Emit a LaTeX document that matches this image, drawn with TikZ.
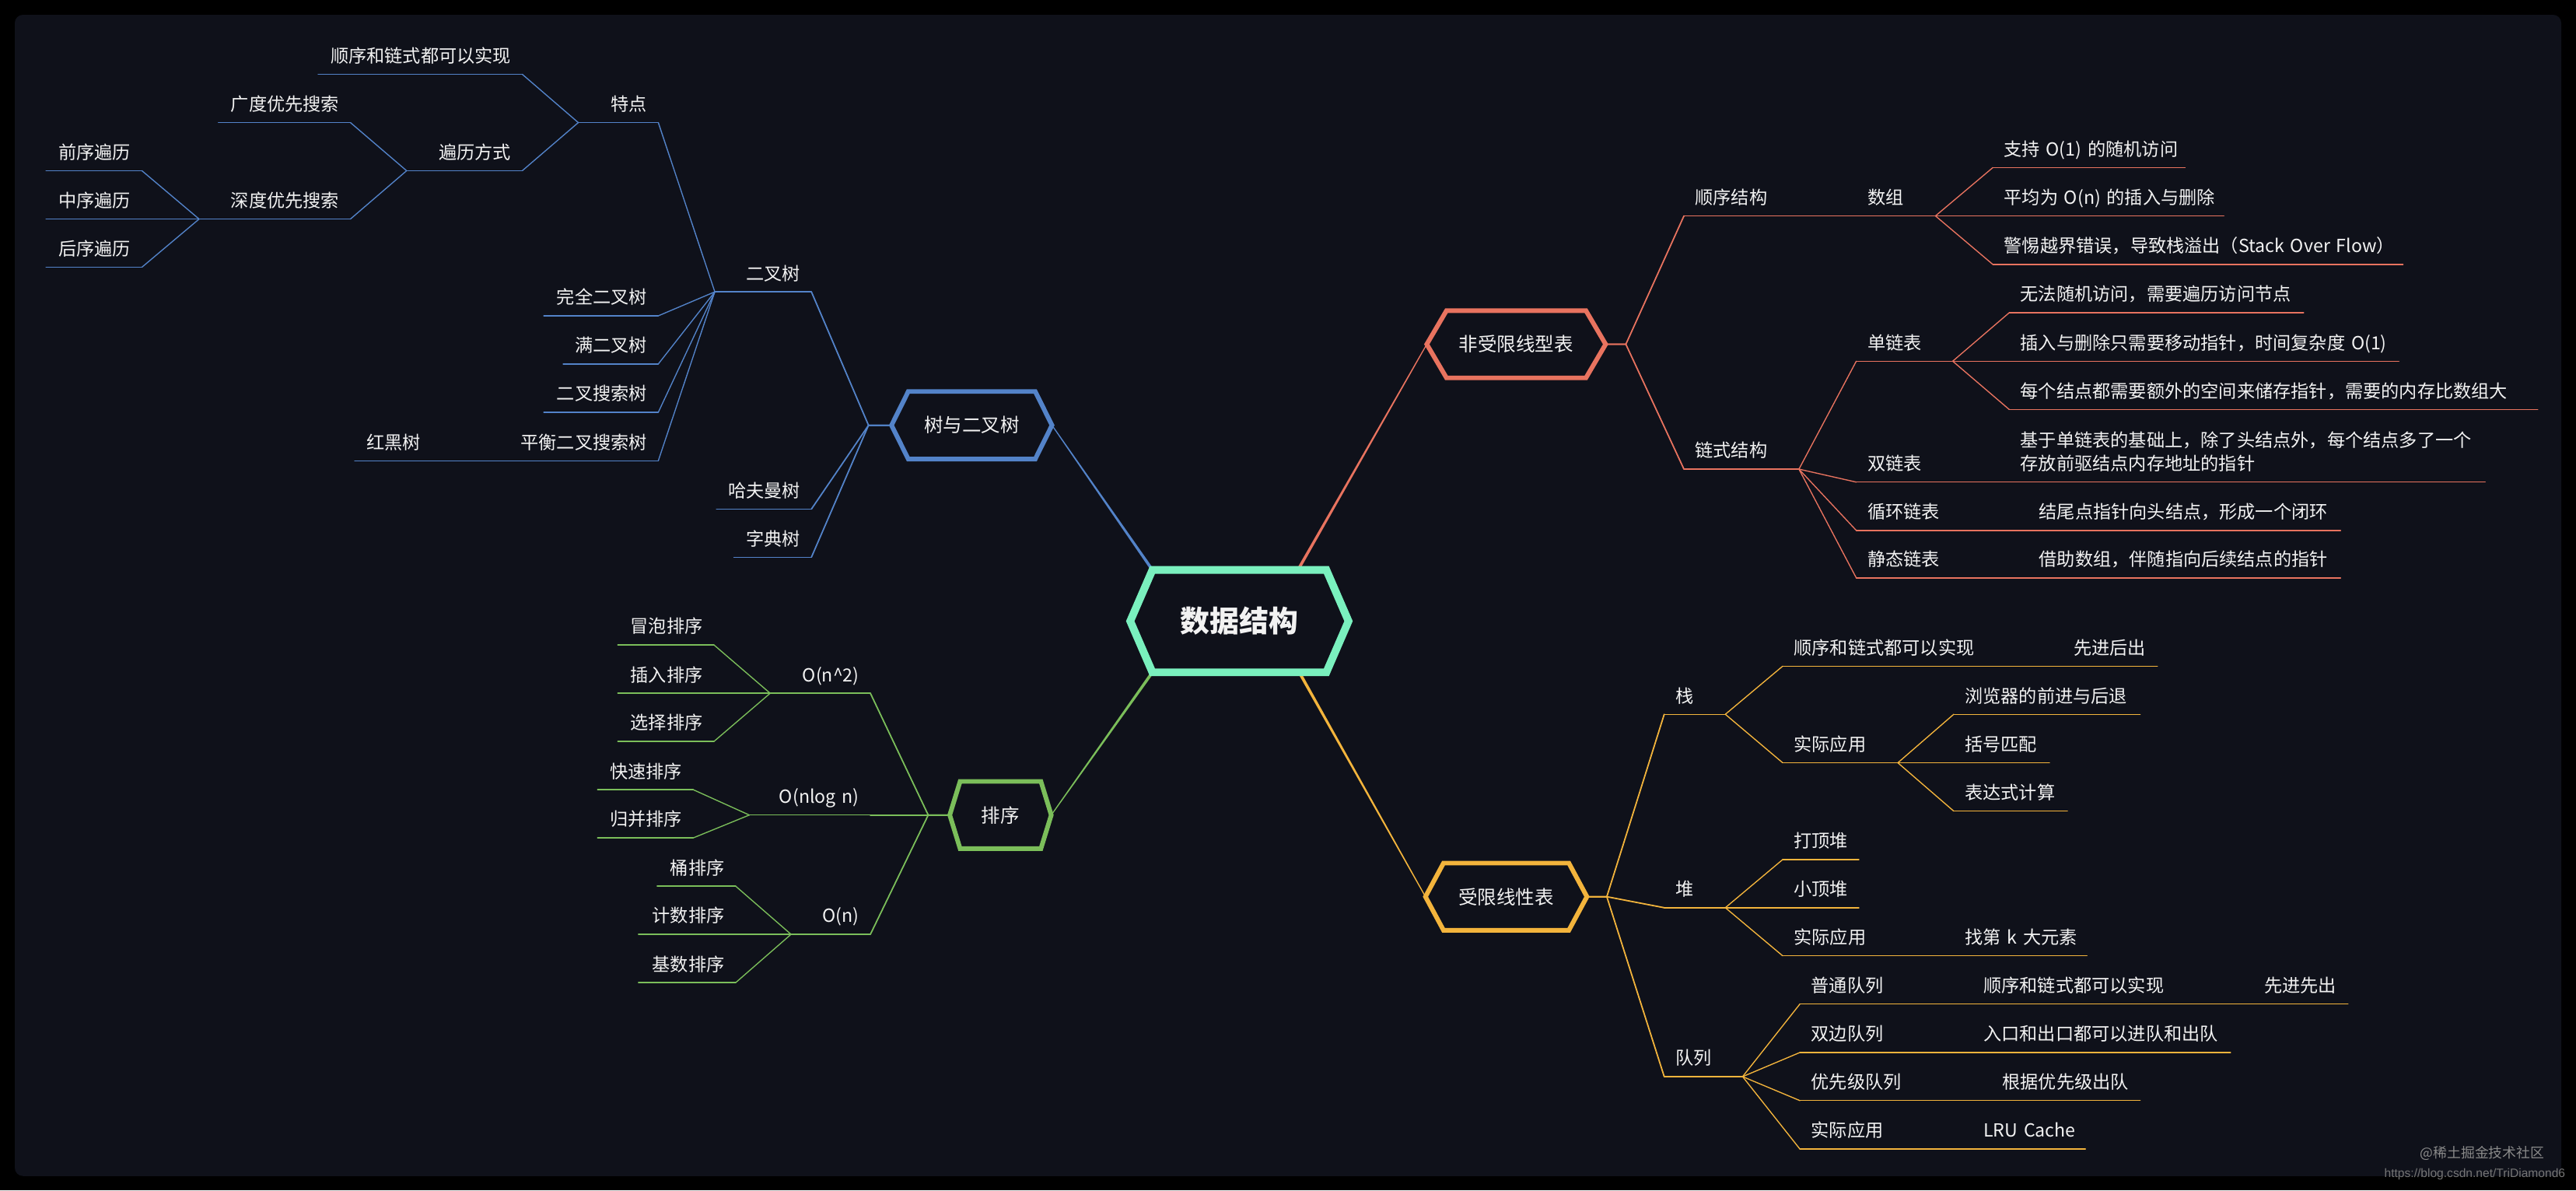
\documentclass[tikz,border=0pt]{standalone}
\usepackage{fontspec}
\setmainfont{Noto Sans CJK SC}
\newfontfamily\urlfont{Liberation Sans}
\usetikzlibrary{calc}
\definecolor{bgc}{HTML}{0F111A}
\definecolor{cblue}{HTML}{5383C9}
\definecolor{ccor}{HTML}{E8735F}
\definecolor{camb}{HTML}{F3B43C}
\definecolor{cgrn}{HTML}{7BBE5A}
\definecolor{cmint}{HTML}{7AF0BE}
\definecolor{txt}{HTML}{F2F2F2}
\definecolor{wmc}{HTML}{8A8A8A}
\tikzset{
  ln/.style={line width=0.013cm, line cap=round, line join=round},
  stub/.style={line width=0.017cm},
  itmbox/.style={anchor=south west, inner xsep=0.13cm, inner ysep=0.11cm,
    text height=5.5pt, text depth=0.75pt,
    font=\fontsize{6.25pt}{8.2pt}\selectfont, text=txt},
  hexbox/.style={inner sep=0pt, font=\fontsize{6.6pt}{8pt}\selectfont, text=txt},
}
% name, colour, align, x0, x1, y, text
\newcommand\itm[7]{%
  \node[itmbox, align=#3, text width={(#5-#4-13)*0.02cm}] (#1) at (#4,#6) {\mbox{#7}};
  \draw[ln,#2] (#1.south west) -- (#1.south east);}
\newcommand\conR[3]{\draw[ln,#1] (#2.south east) -- (#3.south west);}
\newcommand\conL[3]{\draw[ln,#1] (#2.south west) -- (#3.south east);}
\newcommand\hexdraw[4]{\draw[#3, line width=#4, line join=miter]
  (#1.west) -- ([xshift=#2]#1.north west) -- ([xshift=-#2]#1.north east) -- (#1.east)
  -- ([xshift=-#2]#1.south east) -- ([xshift=#2]#1.south west) -- cycle;}
\newcommand\taper[5]{\fill[#1] ($(#2)!#4!90:(#3)$) -- ($(#3)!#5!-90:(#2)$)
  -- ($(#3)!#5!90:(#2)$) -- ($(#2)!#4!-90:(#3)$) -- cycle;}
\begin{document}
\begin{tikzpicture}[x=0.02cm, y=-0.02cm]
\fill[black] (0,0) rectangle (1568,724.35);
\fill[bgc, rounded corners=0.1cm] (9,9) rectangle (1559,715.7);

% ---------- hexagon nodes (outlines drawn later) ----------
\node[hexbox, minimum width=2.644cm, minimum height=1.232cm,
      font=\fontsize{10.2pt}{12pt}\selectfont\bfseries] (ds) at (754.4,378) {数据结构};
\node[hexbox, minimum width=2.164cm, minimum height=0.804cm] (h1) at (922.9,209.5) {非受限线型表};
\node[hexbox, minimum width=1.952cm, minimum height=0.804cm] (h2) at (916.8,545.7) {受限线性表};
\node[hexbox, minimum width=1.94cm, minimum height=0.808cm] (h3) at (591.5,258.8) {树与二叉树};
\node[hexbox, minimum width=1.222cm, minimum height=0.804cm] (h4) at (609,496) {排序};

\coordinate (dsTL) at ([xshift=0.27cm]ds.north west);
\coordinate (dsTR) at ([xshift=-0.616cm]ds.north east);
\coordinate (dsBL) at ([xshift=0.27cm]ds.south west);
\coordinate (dsBR) at ([xshift=-0.6cm]ds.south east);

\taper{cblue}{h3.east}{dsTL}{0.006cm}{0.018cm}
\taper{ccor}{h1.west}{dsTR}{0.006cm}{0.018cm}
\taper{cgrn}{h4.east}{dsBL}{0.006cm}{0.018cm}
\taper{camb}{h2.west}{dsBR}{0.006cm}{0.018cm}

% ---------- coral: 非受限线型表 ----------
\itm{sx}{ccor}{left}{1025}{1094.3}{131.4}{顺序结构}
\itm{szu}{ccor}{left}{1129.9}{1177.4}{131.4}{数组}
\itm{a1}{ccor}{left}{1213}{1329.4}{102}{支持 O(1) 的随机访问}
\itm{a2}{ccor}{left}{1213}{1353}{131.4}{平均为 O(n) 的插入与删除}
\itm{a3}{ccor}{left}{1213}{1462}{160.9}{警惕越界错误，导致栈溢出（Stack Over Flow）}
\itm{lx}{ccor}{left}{1025}{1094.3}{285.5}{链式结构}
\itm{dlb}{ccor}{left}{1129.9}{1187.9}{219.8}{单链表}
\itm{d1}{ccor}{left}{1223}{1401.5}{190.3}{无法随机访问，需要遍历访问节点}
\itm{d2}{ccor}{left}{1223}{1459.5}{219.8}{插入与删除只需要移动指针，时间复杂度 O(1)}
\itm{d3}{ccor}{left}{1223}{1544}{249.2}{每个结点都需要额外的空间来储存指针，需要的内存比数组大}
\itm{slb}{ccor}{left}{1129.9}{1187.9}{293.4}{双链表}
\node[itmbox, align=left, text width={(1512-1223-13)*0.02cm}, text depth=8.95pt] (s1) at (1223,293.4)
  {基于单链表的基础上，除了头结点外，每个结点多了一个\\存放前驱结点内存地址的指针};
\draw[ln,ccor] (s1.south west) -- (s1.south east);
\itm{xhb}{ccor}{left}{1129.9}{1199}{322.8}{循环链表}
\itm{xh1}{ccor}{left}{1234.3}{1424}{322.8}{结尾点指针向头结点，形成一个闭环}
\itm{jtb}{ccor}{left}{1129.9}{1199}{351.7}{静态链表}
\itm{jt1}{ccor}{left}{1234.3}{1424}{351.7}{借助数组，伴随指向后续结点的指针}

\draw[ln,stub,ccor] (h1.east) -- ++(12.3,0) -- (sx.south west);
\draw[ln,stub,ccor] (h1.east) -- ++(12.3,0) -- (lx.south west);
\conR{ccor}{sx}{szu}
\conR{ccor}{szu}{a1}\conR{ccor}{szu}{a2}\conR{ccor}{szu}{a3}
\conR{ccor}{lx}{dlb}\conR{ccor}{lx}{slb}\conR{ccor}{lx}{xhb}\conR{ccor}{lx}{jtb}
\conR{ccor}{dlb}{d1}\conR{ccor}{dlb}{d2}\conR{ccor}{dlb}{d3}
\conR{ccor}{slb}{s1}\conR{ccor}{xhb}{xh1}\conR{ccor}{jtb}{jt1}

% ---------- amber: 受限线性表 ----------
\itm{zhan}{camb}{left}{1013}{1049.5}{434.7}{栈}
\itm{z1}{camb}{left}{1085.1}{1212}{405.4}{顺序和链式都可以实现}
\itm{z1a}{camb}{left}{1255.3}{1312.5}{405.4}{先进后出}
\itm{z2}{camb}{left}{1085.1}{1154.5}{464.2}{实际应用}
\itm{z2a}{camb}{left}{1189.2}{1302}{434.7}{浏览器的前进与后退}
\itm{z2b}{camb}{left}{1189.2}{1246.8}{464.2}{括号匹配}
\itm{z2c}{camb}{left}{1189.2}{1257.7}{493.6}{表达式计算}
\itm{dui}{camb}{left}{1013}{1049.5}{552.4}{堆}
\itm{u1}{camb}{left}{1085.1}{1130.8}{523.1}{打顶堆}
\itm{u2}{camb}{left}{1085.1}{1130.8}{552.4}{小顶堆}
\itm{u3}{camb}{left}{1085.1}{1154.5}{581.7}{实际应用}
\itm{u3a}{camb}{left}{1189.2}{1269.6}{581.7}{找第 k 大元素}
\itm{ql}{camb}{left}{1013}{1060}{655.2}{队列}
\itm{q1}{camb}{left}{1095.6}{1165}{611}{普通队列}
\itm{q1a}{camb}{left}{1200.5}{1330}{611}{顺序和链式都可以实现}
\itm{q1b}{camb}{left}{1371.3}{1428.5}{611}{先进先出}
\itm{q2}{camb}{left}{1095.6}{1165}{640.5}{双边队列}
\itm{q2a}{camb}{left}{1200.5}{1357}{640.5}{入口和出口都可以进队和出队}
\itm{q3}{camb}{left}{1095.6}{1176}{669.8}{优先级队列}
\itm{q3a}{camb}{left}{1212}{1302}{669.8}{根据优先级出队}
\itm{q4}{camb}{left}{1095.6}{1165}{699.3}{实际应用}
\itm{q4a}{camb}{left}{1200.5}{1268.7}{699.3}{LRU Cache}

\draw[ln,stub,camb] (h2.east) -- ++(12.1,0) -- (zhan.south west);
\draw[ln,stub,camb] (h2.east) -- ++(12.1,0) -- (dui.south west);
\draw[ln,stub,camb] (h2.east) -- ++(12.1,0) -- (ql.south west);
\conR{camb}{zhan}{z1}\conR{camb}{zhan}{z2}\conR{camb}{z1}{z1a}
\conR{camb}{z2}{z2a}\conR{camb}{z2}{z2b}\conR{camb}{z2}{z2c}
\conR{camb}{dui}{u1}\conR{camb}{dui}{u2}\conR{camb}{dui}{u3}\conR{camb}{u3}{u3a}
\conR{camb}{ql}{q1}\conR{camb}{ql}{q2}\conR{camb}{ql}{q3}\conR{camb}{ql}{q4}
\conR{camb}{q1}{q1a}\conR{camb}{q1a}{q1b}\conR{camb}{q2}{q2a}
\conR{camb}{q3}{q3a}\conR{camb}{q4}{q4a}

% ---------- blue: 树与二叉树 ----------
\itm{bt}{cblue}{right}{435.1}{493.2}{177.6}{二叉树}
\itm{tp}{cblue}{right}{352}{400}{74.6}{特点}
\itm{tp1}{cblue}{right}{193.6}{317.2}{45.2}{顺序和链式都可以实现}
\itm{bl}{cblue}{right}{247.5}{317.2}{103.9}{遍历方式}
\itm{bl1}{cblue}{right}{132.9}{212.6}{74.6}{广度优先搜索}
\itm{bl2}{cblue}{right}{121.2}{212.6}{133.3}{深度优先搜索}
\itm{pre}{cblue}{right}{28}{85.7}{103.9}{前序遍历}
\itm{mid}{cblue}{right}{28}{85.7}{133.3}{中序遍历}
\itm{pst}{cblue}{right}{28}{85.7}{162.6}{后序遍历}
\itm{wq}{cblue}{right}{331}{400}{192.2}{完全二叉树}
\itm{mb}{cblue}{right}{342.8}{400}{221.5}{满二叉树}
\itm{bs}{cblue}{right}{331}{400}{250.9}{二叉搜索树}
\itm{ph}{cblue}{right}{308.9}{400}{280.4}{平衡二叉搜索树}
\itm{hh}{cblue}{right}{215.9}{262.2}{280.4}{红黑树}
\itm{hf}{cblue}{right}{436.1}{493.2}{309.8}{哈夫曼树}
\itm{zd}{cblue}{right}{446.7}{493.2}{339.1}{字典树}

\draw[ln,stub,cblue] (h3.west) -- ++(-14,0) -- (bt.south east);
\draw[ln,stub,cblue] (h3.west) -- ++(-14,0) -- (hf.south east);
\draw[ln,stub,cblue] (h3.west) -- ++(-14,0) -- (zd.south east);
\conL{cblue}{bt}{tp}\conL{cblue}{bt}{wq}\conL{cblue}{bt}{mb}\conL{cblue}{bt}{bs}\conL{cblue}{bt}{ph}
\conL{cblue}{tp}{tp1}\conL{cblue}{tp}{bl}
\conL{cblue}{bl}{bl1}\conL{cblue}{bl}{bl2}
\conL{cblue}{bl2}{pre}\conL{cblue}{bl2}{mid}\conL{cblue}{bl2}{pst}
\conL{cblue}{ph}{hh}

% ---------- green: 排序 ----------
\itm{o2}{cgrn}{right}{468.8}{529.1}{421.9}{O(n\textasciicircum 2)}
\itm{mp}{cgrn}{right}{376}{433.9}{392.5}{冒泡排序}
\itm{crp}{cgrn}{right}{376}{433.9}{421.9}{插入排序}
\itm{xz}{cgrn}{right}{376}{433.9}{451.2}{选择排序}
\itm{onl}{cgrn}{right}{456.1}{529.1}{496}{O(nlog n)}
\itm{ks}{cgrn}{right}{363.7}{421.3}{480.6}{快速排序}
\itm{gb}{cgrn}{right}{363.7}{421.3}{509.9}{归并排序}
\itm{on}{cgrn}{right}{481.5}{529.1}{568.6}{O(n)}
\itm{tpx}{cgrn}{right}{400}{447.1}{539.3}{桶排序}
\itm{jsx}{cgrn}{right}{388.6}{447.1}{568.6}{计数排序}
\itm{jsp}{cgrn}{right}{388.6}{447.1}{598}{基数排序}

\draw[ln,stub,cgrn] (h4.west) -- ++(-13.1,0) -- (o2.south east);
\draw[ln,stub,cgrn] (h4.west) -- ++(-13.1,0) -- (onl.south east);
\draw[ln,stub,cgrn] (h4.west) -- ++(-13.1,0) -- (on.south east);
\conL{cgrn}{o2}{mp}\conL{cgrn}{o2}{crp}\conL{cgrn}{o2}{xz}
\conL{cgrn}{onl}{ks}\conL{cgrn}{onl}{gb}
\conL{cgrn}{on}{tpx}\conL{cgrn}{on}{jsx}\conL{cgrn}{on}{jsp}

% ---------- hexagon outlines ----------
\hexdraw{ds}{0.27cm}{cmint}{0.094cm}
\hexdraw{h1}{0.24cm}{ccor}{0.056cm}
\hexdraw{h2}{0.22cm}{camb}{0.056cm}
\hexdraw{h3}{0.204cm}{cblue}{0.056cm}
\hexdraw{h4}{0.126cm}{cgrn}{0.056cm}

% ---------- watermark ----------
\node[anchor=east, inner sep=0pt, text=wmc, font=\fontsize{4.8pt}{5.5pt}\selectfont] (wm1) at (1549,702) {@稀土掘金技术社区};
\node[anchor=west, inner sep=0pt, text=wmc!85!black, font=\fontsize{4.2pt}{5pt}\selectfont\urlfont] (wm2) at (1451,714.6) {https://blog.csdn.net/TriDiamond6};
\end{tikzpicture}
\end{document}
